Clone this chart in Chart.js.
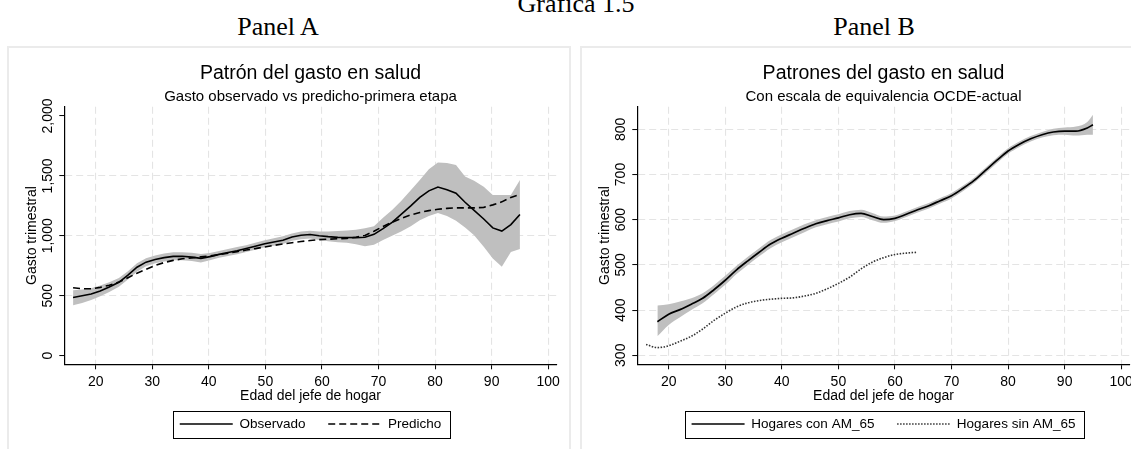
<!DOCTYPE html>
<html><head><meta charset="utf-8">
<script src="https://cdn.jsdelivr.net/npm/chart.js@4.4.1/dist/chart.umd.min.js"></script>
<style>
html,body{margin:0;padding:0;background:#fff;}
body{width:1131px;height:449px;overflow:hidden;position:relative;font-family:'Liberation Serif','Times New Roman',serif;}
.cap{position:absolute;font-size:26px;line-height:26px;white-space:nowrap;color:#000;transform:translateX(-50%);}
.frame{position:absolute;top:46px;height:440px;border:2px solid #ebebeb;box-sizing:border-box;}
canvas{position:absolute;top:0;}
</style></head>
<body>
<div class="frame" style="left:7px;width:564px"></div>
<div class="frame" style="left:580px;width:564px"></div>
<div class="cap" style="left:576px;top:-9px">Gráfica 1.5</div>
<div class="cap" style="left:278px;top:14px">Panel A</div>
<div class="cap" style="left:874px;top:14px">Panel B</div>
<canvas id="cA" width="573" height="449" style="left:0"></canvas>
<canvas id="cB" width="573" height="449" style="left:573px"></canvas>
<script>
// ---------- Panel A data ----------
const agesA = [16,17.6,19.2,20.8,22.4,24.1,25.7,27.3,28.9,30.5,32.1,33.7,35.3,37,38.6,40.2,41.8,43.4,45,46.6,48.2,49.9,51.5,53.1,54.7,56.3,57.9,59.5,61.1,62.8,64.4,66,67.6,69.2,70.8,72.4,74,75.7,77.3,78.9,80.5,82.1,83.7,85.3,86.9,88.6,90.2,91.8,93.4,95];
const observedA = [486,500,515,540,573,612,672,738,780,803,818,828,829,822,812,826,845,861,876,894,913,934,948,963,990,1005,1011,1001,993,987,986,985,988,1012,1060,1112,1178,1249,1320,1375,1407,1384,1355,1280,1212,1140,1066,1039,1094,1178];
const predictedA = [567,558,558,570,588,614,650,688,720,752,777,795,808,816,824,832,843,855,868,881,893,907,920,932,942,952,961,968,972,975,978,988,1003,1038,1078,1113,1145,1174,1195,1210,1221,1229,1233,1233,1233,1237,1258,1283,1320,1344];
const ciHighA = [545,553,562,585,612,648,705,770,812,836,852,862,863,858,848,856,874,890,906,922,942,963,980,996,1020,1036,1042,1035,1035,1040,1045,1050,1062,1080,1150,1215,1290,1380,1465,1555,1612,1608,1590,1494,1460,1410,1340,1340,1340,1466];
const ciLowA = [420,440,465,495,532,575,635,700,745,770,786,796,797,789,778,796,816,832,846,864,884,905,918,932,958,972,978,966,955,946,942,930,912,925,965,1000,1035,1080,1130,1165,1190,1165,1125,1070,1005,908,810,742,865,890];
const yTicksA = [0,500,1000,1500,2000];
const yLabelsA = ['0','500','1,000','1,500','2,000'];

// ---------- Panel B data ----------
const agesConB = [18,20,22,24,26,28,30,32,34,36,38,40,42,44,46,48,50,52,54,56,58,60,62,64,66,68,70,72,74,76,78,80,82,84,86,88,90,92,94,95];
const conB = [374,391,401,413,426,445,466,489,509,528,546,559,570,581,591,598,604,611,614,607,600,603,612,622,631,642,653,669,687,709,731,752,767,779,788,794,796,796,803,810];
const conHighB = [410,413,419,426,437,455,476,498,518,537,555,568,579,590,599,606,612,619,622,615,607,609,618,628,637,648,659,675,693,715,737,758,773,785,794,801,804,806,816,832];
const conLowB = [342,367,384,400,415,435,456,480,500,519,537,550,561,572,583,590,596,603,606,599,593,597,606,616,625,636,647,663,681,703,725,746,761,773,782,787,788,786,788,788];
const agesSinB = [16,18,20,22,24,26,28,30,32,34,36,38,40,42,44,46,48,50,52,54,56,58,60,62,64];
const sinB = [324,317,321,331,342,358,377,393,407,416,421,424,426,427,431,437,447,459,473,491,506,516,523,526,528];
const yTicksB = [300,400,500,600,700,800];
const yLabelsB = ['300','400','500','600','700','800'];

const xTicks = [20,30,40,50,60,70,80,90,100];
const xLabels = ['20','30','40','50','60','70','80','90','100'];

// ---------- helpers ----------
Chart.defaults.font.family = "'Liberation Sans', Arial, Helvetica, sans-serif";
Chart.defaults.color = '#000';

function pts(xs, ys) { return xs.map((x, i) => ({x: x, y: ys[i]})); }

const legendFrame = {
  id: 'legendFrame',
  afterDraw(chart) {
    const lg = chart.legend;
    if (!lg || !lg.legendHitBoxes || !lg.legendHitBoxes.length) return;
    const hb = lg.legendHitBoxes, f = hb[0], l = hb[hb.length - 1];
    const x0 = Math.round(f.left - 7), x1 = Math.round(l.left + l.width + 9);
    const yc = f.top + f.height / 2;
    const y0 = Math.round(yc - 13.3);
    const ctx = chart.ctx;
    ctx.save();
    ctx.strokeStyle = '#000';
    ctx.lineWidth = 1;
    ctx.setLineDash([]);
    ctx.strokeRect(x0 + 0.5, y0 + 0.5, x1 - x0, 27);
    ctx.restore();
  }
};

function legendLabels(chart) {
  const base = Chart.defaults.plugins.legend.labels.generateLabels(chart);
  return base.map(it => {
    const ds = chart.data.datasets[it.datasetIndex];
    it.lineDash = ds.borderDash || [];
    it.lineWidth = ds.borderWidth;
    it.strokeStyle = ds.borderColor;
    it.pointStyle = 'line';
    return it;
  });
}

const GRID = '#e4e4e4';
const BAND = '#bfbfbf';

function makePanel(id, o) {
  return new Chart(document.getElementById(id), {
    type: 'line',
    data: {datasets: o.datasets},
    options: {
      responsive: false, animation: false, devicePixelRatio: 1,
      layout: {padding: {left: 0, right: 16.3, top: 0, bottom: 8.25}},
      elements: {point: {radius: 0}},
      plugins: {
        title: {display: true, text: o.title, fullSize: false, color: '#000',
                font: {size: 19.5, weight: 'normal', lineHeight: 1.2}, padding: {top: 62.3, bottom: 0}},
        subtitle: {display: true, text: o.subtitle, fullSize: false, color: '#000',
                   font: {size: 15, weight: 'normal', lineHeight: 1.2}, padding: {top: 2.3, bottom: 0.7}},
        legend: {display: true, position: 'bottom', fullSize: false,
                 labels: {usePointStyle: true, pointStyle: 'line', pointStyleWidth: 53, boxWidth: 53,
                          color: '#000', font: {size: 13.5, lineHeight: 1.2}, padding: 22.7,
                          generateLabels: legendLabels,
                          filter: it => !!it.text}},
        tooltip: {enabled: false}
      },
      scales: {
        x: {
          type: 'linear', min: 14.45, max: 101.5, bounds: 'data',
          afterFit: s => { s.height = 30.25; },
          afterBuildTicks: s => { s.ticks = xTicks.map(v => ({value: v})); },
          ticks: {autoSkip: false, maxRotation: 0, minRotation: 0, padding: 4, color: '#000',
                  font: {size: 14, lineHeight: 1.2}, callback: (v, i) => xLabels[i]},
          grid: {color: GRID, lineWidth: 1.1, drawTicks: true, tickLength: 5, tickColor: '#000', tickWidth: 1},
          border: {display: true, color: '#000', width: 1.2, dash: [7, 4]},
          title: {display: true, text: 'Edad del jefe de hogar', color: '#000',
                  font: {size: 14, lineHeight: 1.2}, padding: {top: 0, bottom: -9.85}}
        },
        y: {
          type: 'linear', min: o.yMin, max: o.yMax, bounds: 'data',
          afterFit: s => { s.width = 64.3; },
          afterBuildTicks: s => { s.ticks = o.yTicks.map(v => ({value: v})); },
          ticks: {autoSkip: false, minRotation: 90, maxRotation: 90, crossAlign: 'center',
                  padding: o.yTickPad, color: '#000', font: {size: 14, lineHeight: 1.2},
                  callback: (v, i) => o.yLabels[i]},
          grid: {color: c => (o.gridEnds || (c.index > 0 && c.index < o.yTicks.length - 1)) ? GRID : 'rgba(0,0,0,0)',
                 lineWidth: 1.1, drawTicks: true, tickLength: 5, tickColor: '#000', tickWidth: 1},
          border: {display: true, color: '#000', width: 1.2, dash: [7, 4]},
          title: {display: true, text: 'Gasto trimestral', color: '#000',
                  font: {size: 14, lineHeight: 1.2}, padding: {top: 23.3, bottom: 0}}
        }
      }
    },
    plugins: [legendFrame]
  });
}

makePanel('cA', {
  title: 'Patrón del gasto en salud',
  subtitle: 'Gasto observado vs predicho-primera etapa',
  yMin: -72, yMax: 2077, yTicks: yTicksA, yLabels: yLabelsA, yTickPad: -6.7, gridEnds: false,
  datasets: [
    {label: 'Observado', data: pts(agesA, observedA), borderColor: '#000', borderWidth: 1.6, tension: 0, fill: false, order: 0},
    {label: 'Predicho', data: pts(agesA, predictedA), borderColor: '#000', borderWidth: 1.6, borderDash: [7, 4], tension: 0, fill: false, order: 1},
    {label: '', data: pts(agesA, ciHighA), borderColor: 'rgba(0,0,0,0)', borderWidth: 0, backgroundColor: BAND, tension: 0, fill: false, order: 2},
    {label: '', data: pts(agesA, ciLowA), borderColor: 'rgba(0,0,0,0)', borderWidth: 0, backgroundColor: BAND, tension: 0, fill: '-1', order: 3}
  ]
});

makePanel('cB', {
  title: 'Patrones del gasto en salud',
  subtitle: 'Con escala de equivalencia OCDE-actual',
  yMin: 280, yMax: 850, yTicks: yTicksB, yLabels: yLabelsB, yTickPad: -0.9, gridEnds: true,
  datasets: [
    {label: 'Hogares con AM_65', data: pts(agesConB, conB), borderColor: '#000', borderWidth: 1.7, cubicInterpolationMode: 'monotone', fill: false, order: 0},
    {label: 'Hogares sin AM_65', data: pts(agesSinB, sinB), borderColor: '#333', borderWidth: 1.6, borderDash: [1.5, 1.5], cubicInterpolationMode: 'monotone', fill: false, order: 1},
    {label: '', data: pts(agesConB, conHighB), borderColor: 'rgba(0,0,0,0)', borderWidth: 0, backgroundColor: BAND, cubicInterpolationMode: 'monotone', fill: false, order: 2},
    {label: '', data: pts(agesConB, conLowB), borderColor: 'rgba(0,0,0,0)', borderWidth: 0, backgroundColor: BAND, cubicInterpolationMode: 'monotone', fill: '-1', order: 3}
  ]
});
</script>
</body></html>
